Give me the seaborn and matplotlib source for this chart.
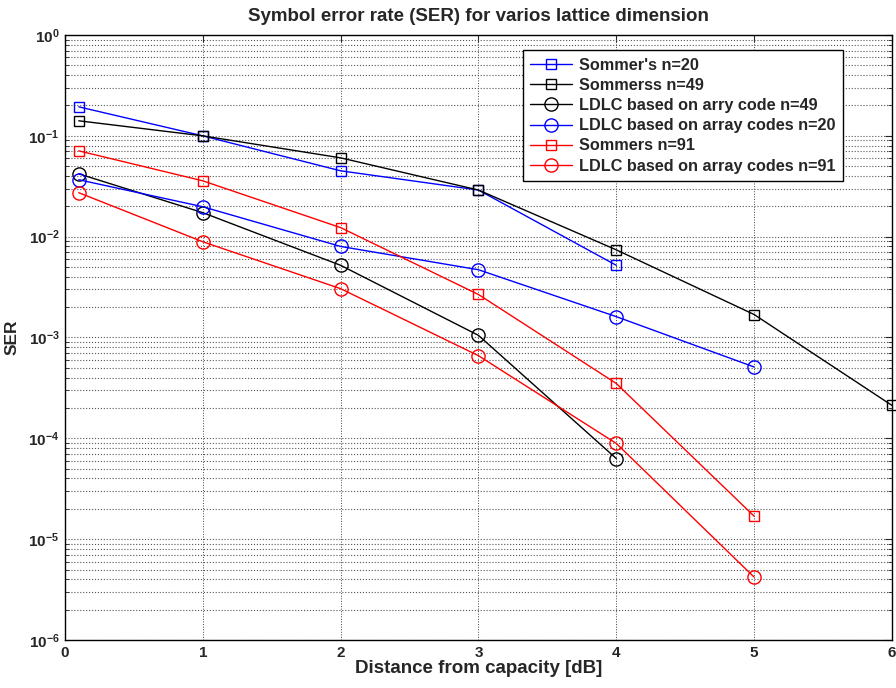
import matplotlib
matplotlib.use("Agg")
import matplotlib.pyplot as plt
from matplotlib.ticker import FixedLocator, LogLocator, NullFormatter, LogFormatterMathtext
import numpy as np
import pandas as pd
import seaborn as sns

# Distance from capacity [dB] for each measured point
x_short = [0.1, 1, 2, 3, 4]
x_mid = [0.1, 1, 2, 3, 4, 5]
x_long = [0.1, 1, 2, 3, 4, 5, 6]

# Symbol error rates
ser_sommer_20 = [0.194, 0.100, 0.045, 0.029, 0.0052]
ser_sommer_49 = [0.141, 0.100, 0.0605, 0.029, 0.0074, 0.00169, 2.12e-4]
ser_ldlc_49 = [0.042, 0.0173, 0.0052, 0.00105, 6.3e-5]
ser_ldlc_20 = [0.0367, 0.0198, 0.0080, 0.0047, 0.00161, 5.1e-4]
ser_sommer_91 = [0.071, 0.0358, 0.0123, 0.00267, 3.5e-4, 1.69e-5]
ser_ldlc_91 = [0.0273, 0.0089, 0.00305, 6.6e-4, 8.9e-5, 4.2e-6]

labels = [
    "Sommer's n=20",
    "Sommerss n=49",
    "LDLC based on arry code n=49",
    "LDLC based on array codes n=20",
    "Sommers n=91",
    "LDLC based on array codes n=91",
]
colors = ["#0000ff", "#000000", "#000000", "#0000ff", "#ff0000", "#ff0000"]
markers = ["s", "s", "o", "o", "s", "o"]
xs = [x_short, x_long, x_short, x_mid, x_mid, x_mid]
ys = [ser_sommer_20, ser_sommer_49, ser_ldlc_49, ser_ldlc_20, ser_sommer_91, ser_ldlc_91]

x_ticks = [0, 1, 2, 3, 4, 5, 6]
y_ticks = [1e-6, 1e-5, 1e-4, 1e-3, 1e-2, 1e-1, 1e0]

sns.set_style("white")
plt.rcParams["font.family"] = ["Liberation Sans", "DejaVu Sans"]
plt.rcParams["font.weight"] = "bold"

fig = plt.figure(figsize=(8.96, 6.88), dpi=100)
ax = fig.add_axes([0.0725, 0.0698, 0.9230, 0.8793])

for lab, c, m, xv, yv in zip(labels, colors, markers, xs, ys):
    df = pd.DataFrame({"x": xv, "y": yv})
    ms = 6.5 if m == "s" else 9.5
    sns.lineplot(data=df, x="x", y="y", ax=ax, color=c, marker=m,
                 markersize=ms, markerfacecolor="none", markeredgecolor=c,
                 markeredgewidth=1.0, linewidth=1.0, label=lab, sort=False,
                 estimator=None, clip_on=False, zorder=3)

ax.set_yscale("log")
ax.set_xlim(0, 6)
ax.set_ylim(1e-6, 1)
ax.xaxis.set_major_locator(FixedLocator(x_ticks))
ax.yaxis.set_major_locator(FixedLocator(y_ticks))
ax.yaxis.set_major_formatter(LogFormatterMathtext())
ax.yaxis.set_minor_locator(LogLocator(base=10, subs=np.arange(2, 10), numticks=20))
ax.yaxis.set_minor_formatter(NullFormatter())

ax.grid(True, which="major", axis="x", color="#444444", linestyle=":", linewidth=0.7)
ax.grid(True, which="both", axis="y", color="#555555", linestyle=":", linewidth=0.8)
ax.set_axisbelow(True)

ax.tick_params(axis="both", which="major", direction="in", length=5, width=0.8,
               top=True, right=True, labelsize=11, pad=4)
ax.tick_params(axis="y", which="minor", direction="in", length=3, width=0.6,
               left=True, right=True)
for lbl in ax.get_xticklabels() + ax.get_yticklabels():
    lbl.set_fontweight("bold")

for sp in ax.spines.values():
    sp.set_color("black")
    sp.set_linewidth(1.0)

ax.set_xlabel("Distance from capacity [dB]", fontsize=13.5, fontweight="bold", labelpad=0)
ax.set_ylabel("SER", fontsize=12.5, fontweight="bold", labelpad=6)
ax.set_title("Symbol error rate (SER) for varios lattice dimension",
             fontsize=13.5, fontweight="bold", pad=10)

leg = ax.legend(loc="upper right", bbox_to_anchor=(0.9407, 0.9747), frameon=True,
                fancybox=False, framealpha=1, edgecolor="black",
                prop={"weight": "bold", "size": 11.7}, handlelength=2.6,
                handletextpad=0.4, borderpad=0.45, labelspacing=0.32,
                borderaxespad=0.0)
leg.get_frame().set_linewidth(1.0)

fig.savefig("out.png", dpi=100)
